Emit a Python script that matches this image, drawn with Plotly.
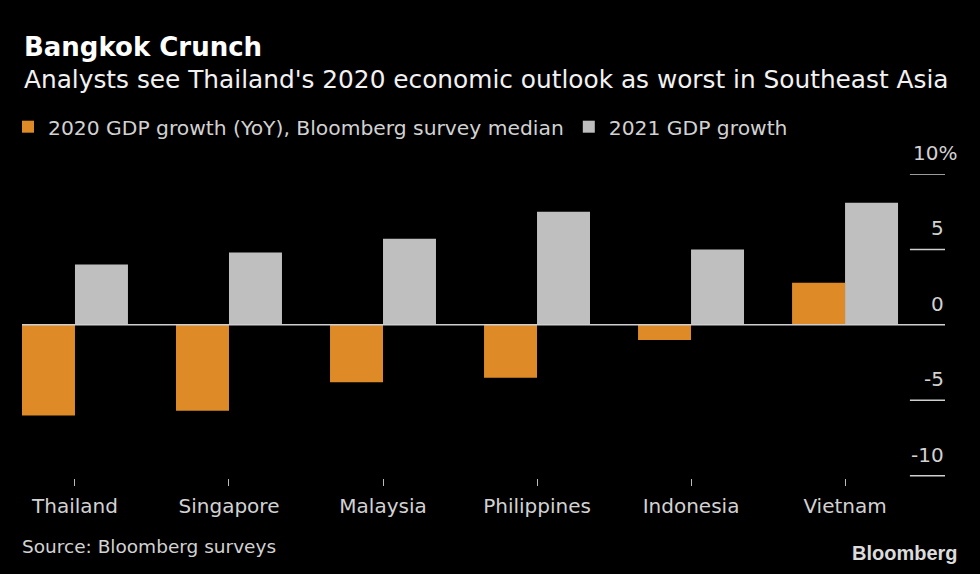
import plotly.graph_objects as go

countries = ["Thailand", "Singapore", "Malaysia", "Philippines", "Indonesia", "Vietnam"]
gdp_2020 = [-6.0, -5.7, -3.8, -3.5, -1.0, 2.8]
gdp_2021 = [4.0, 4.8, 5.7, 7.5, 5.0, 8.1]
y_ticks = [-10, -5, 0, 5, 10]
y_tick_labels = ["-10", "-5", "0", "5", "10%"]

ORANGE = "#DE8B27"
GRAY = "#BFBFBF"
TXT = "#D2D2D2"
FONT = "DejaVu Sans"

W, H = 980, 574
PL, PR, PT, PB = 22, 945, 174, 478

fig = go.Figure()
fig.add_trace(go.Bar(x=countries, y=gdp_2020, name="2020 GDP growth (YoY), Bloomberg survey median",
                     marker=dict(color=ORANGE, line=dict(width=0))))
fig.add_trace(go.Bar(x=countries, y=gdp_2021, name="2021 GDP growth",
                     marker=dict(color=GRAY, line=dict(width=0))))

shapes = []
annotations = []
for v, lab in zip(y_ticks, y_tick_labels):
    shapes.append(dict(type="line", xref="paper", yref="y", x0=0 if v == 0 else 0.962, x1=1,
                       y0=v, y1=v, line=dict(color="#CFCFCF", width=1.5), layer="above"))
    annotations.append(dict(xref="paper", yref="y", x=1, y=v, text=lab, showarrow=False,
                            xanchor="right", yanchor="bottom", yshift=7,
                            xshift=14 if lab.endswith("%") else 1,
                            font=dict(family=FONT, size=20, color=TXT)))

annotations += [
    dict(xref="paper", yref="paper", x=0, y=1, yshift=PT - 47, text="<b>Bangkok Crunch</b>",
         showarrow=False, xanchor="left", yanchor="middle",
         font=dict(family=FONT, size=26, color="#FFFFFF")),
    dict(xref="paper", yref="paper", x=0, y=1, yshift=PT - 79,
         text="Analysts see Thailand's 2020 economic outlook as worst in Southeast Asia",
         showarrow=False, xanchor="left", yanchor="middle",
         font=dict(family=FONT, size=24.8, color="#F2F2F2")),
    dict(xref="paper", yref="paper", x=0, y=0, yshift=-(546 - PB), xshift=-2,
         text="Source: Bloomberg surveys",
         showarrow=False, xanchor="left", yanchor="middle",
         font=dict(family=FONT, size=18.5, color=TXT)),
    dict(xref="paper", yref="paper", x=1, y=0, yshift=-(553 - PB), xshift=15, text="<b>Bloomberg</b>",
         showarrow=False, xanchor="right", yanchor="middle",
         font=dict(family="Liberation Sans", size=20, color="#DCDCDC")),
]

fig.update_layout(
    width=W, height=H,
    margin=dict(l=PL, r=W - PR, t=PT, b=H - PB, autoexpand=False),
    paper_bgcolor="#000000", plot_bgcolor="#000000",
    barmode="group", bargap=0.312, bargroupgap=0,
    showlegend=True,
    legend=dict(orientation="h", xref="container", yref="container",
                x=8 / W, xanchor="left", y=1 - 127 / H, yanchor="middle",
                font=dict(family=FONT, size=20.3, color=TXT), bgcolor="rgba(0,0,0,0)",
                itemwidth=30, traceorder="normal"),
    shapes=shapes, annotations=annotations,
    xaxis=dict(type="category", range=[-0.344, 5.649], showgrid=False, zeroline=False,
               showline=False, ticks="outside", ticklen=7, tickwidth=1, tickcolor="#BBBBBB",
               ticklabelstandoff=3,
               tickfont=dict(family=FONT, size=20, color=TXT), fixedrange=True),
    yaxis=dict(range=[-10.15, 10], showgrid=False, zeroline=False, showticklabels=False,
               showline=False, ticks="", fixedrange=True),
)

fig.write_html("out.html", config={"displayModeBar": False},
               post_script="document.body.style.margin='0';document.body.style.background='#000';")
